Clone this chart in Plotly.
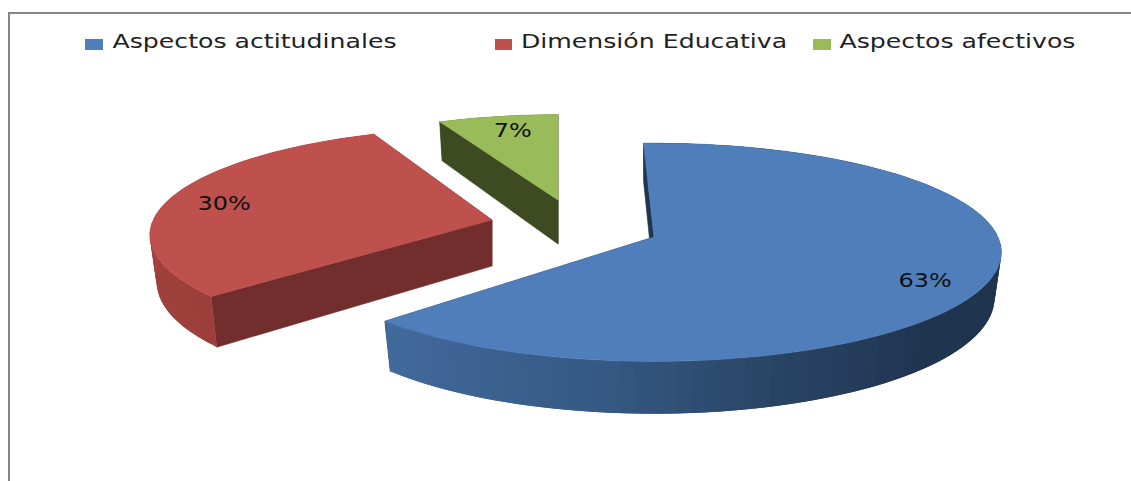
import numpy as np
import plotly.graph_objects as go

# ---- data ----
categories = ["Aspectos actitudinales", "Dimensión Educativa", "Aspectos afectivos"]
values = [63, 30, 7]

# ---- styles / placement (pixels of a 1131x481 canvas) ----
W, H = 1131, 481
top_colors = ["#4F7EBA", "#BE504D", "#9ABB59"]
radial_colors = ["#1F344F", "#722E2C", "#3E4A22"]
wall_stops = [
    [(90, "#1F344F"), (135, "#1F344F"), (165, "#2A4565"), (190, "#365A85"), (227, "#426B9D")],
    [(227, "#9C3F3B"), (250, "#A0413D"), (290, "#A8443F")],
    [(335, "#5A6E30"), (360, "#5A6E30")],
]
apex = [(654, 237), (492, 220), (558, 200)]
scale = [1.0, 0.985, 0.91]
depth = [45, 46, 44]
rot_deg = [-2.0, 2.0, 0.0]
label_nudge = [(4, 13), (-10, 3), (4, 1)]
RX, RY, K = 344, 107, 0.14
BOTTOM_X = 0.98
LABEL_R = 0.8
TEXT_STRETCH = 1.26
key_text_center = [254.5, 654, 957.5]
key_swatch_x = [(85, 103), (495, 512), (813, 831)]
key_swatch_y = (39, 50)
key_text_y = 43


def project(theta_deg, r, i, lower=False):
    t = np.radians(theta_deg + rot_deg[i])
    u, v = r * np.sin(t), -r * np.cos(t)
    d = 1 - K * v
    x = RX * scale[i] * u / d
    y = RY * scale[i] * v / d
    if lower:
        return apex[i][0] + BOTTOM_X * x, apex[i][1] + y + depth[i] / d
    return apex[i][0] + x, apex[i][1] + y


def hex_mix(stops, a):
    angs = [s[0] for s in stops]
    rgb = [[int(s[1][k:k + 2], 16) for k in (1, 3, 5)] for s in stops]
    return "rgb(%d,%d,%d)" % tuple(np.interp(a, angs, [c[j] for c in rgb]) for j in range(3))


def poly(xs, ys, color, edge=0.6):
    return go.Scatter(x=list(xs), y=list(ys), mode="lines", fill="toself", fillcolor=color,
                      line=dict(color=color, width=edge), showlegend=False, hoverinfo="skip")


def wall_pieces(fig, i, angles, step):
    # each piece overlaps the next one so that no seams show
    for s0, s1 in zip(angles[:-1], angles[1:]):
        s2 = min(s1 + step, angles[-1])
        tx0, ty0 = project(s0, 1, i)
        arc = np.linspace(s0, s2, 5)
        top = [project(a, 1, i) for a in arc]
        low = [project(a, 1, i, True) for a in arc[::-1]]
        xs = [tx0] + [p[0] for p in top] + [p[0] for p in low] + [tx0]
        ys = [ty0] + [p[1] for p in top] + [p[1] for p in low] + [ty0]
        fig.add_trace(poly(xs, ys, hex_mix(wall_stops[i], (s0 + s1) / 2), edge=0))


total = sum(values)
edges = np.cumsum([0] + values) / total * 360
fig = go.Figure()

for i in [2, 1, 0]:
    a0, a1 = edges[i], edges[i + 1]
    steps = np.linspace(a0, a1, int(max(8, (a1 - a0) / 2)) + 1)
    step = steps[1] - steps[0]
    back = [a for a in steps if np.cos(np.radians(a + rot_deg[i])) > 0]
    front = [a for a in steps if np.cos(np.radians(a + rot_deg[i])) <= 0]
    # back part of the outer wall, then the radial walls, then the front part
    for run in np.split(np.array(back), np.where(np.diff(back) > step * 1.5)[0] + 1):
        if len(run) > 1:
            wall_pieces(fig, i, list(run), step)
    for a in (a0, a1):
        ex, ey = project(a, 1, i)
        lx, ly = project(a, 1, i, True)
        ax, ay = project(a, 0, i)
        bx, by = project(a, 0, i, True)
        fig.add_trace(poly([ax, ex, lx, bx, ax], [ay, ey, ly, by, ay], radial_colors[i]))
    if len(front) > 1:
        wall_pieces(fig, i, front, step)
    # top face
    arc = np.linspace(a0, a1, 160)
    pts = [project(a, 1, i) for a in arc]
    xs = [apex[i][0]] + [p[0] for p in pts] + [apex[i][0]]
    ys = [apex[i][1]] + [p[1] for p in pts] + [apex[i][1]]
    fig.add_trace(poly(xs, ys, top_colors[i]))

# percentage labels
for i in range(3):
    lx, ly = project((edges[i] + edges[i + 1]) / 2, LABEL_R, i)
    fig.add_trace(go.Scatter(x=[lx + label_nudge[i][0]], y=[ly + label_nudge[i][1]], mode="text",
                             text=[f"{values[i]}%"],
                             textfont=dict(family="DejaVu Sans", size=19, color="#111111"),
                             textposition="middle center", showlegend=False, hoverinfo="skip"))

# colour key: swatch plus name, with the reference's uneven gaps and its wide lettering
shapes = [
    dict(type="line", xref="x", yref="y", x0=9, x1=9, y0=13, y1=H,
         line=dict(color="#868686", width=2)),
    dict(type="line", xref="x", yref="y", x0=8, x1=W, y0=13, y1=13,
         line=dict(color="#868686", width=2)),
]
for i, name in enumerate(categories):
    fig.add_trace(go.Scatter(x=[key_text_center[i]], y=[key_text_y], mode="text", name=name,
                             text=[name], showlegend=False, hoverinfo="skip",
                             textfont=dict(family="DejaVu Sans", size=20, color="#222222"),
                             textposition="middle center"))
    shapes.append(dict(type="rect", xref="x", yref="y", x0=key_swatch_x[i][0], x1=key_swatch_x[i][1],
                       y0=key_swatch_y[0], y1=key_swatch_y[1], fillcolor=top_colors[i], line=dict(width=0)))

fig.update_layout(
    width=W, height=H, margin=dict(l=0, r=0, t=0, b=0),
    paper_bgcolor="white", plot_bgcolor="white", showlegend=False,
    xaxis=dict(range=[0, W], visible=False, fixedrange=True),
    yaxis=dict(range=[H, 0], visible=False, fixedrange=True),
    shapes=shapes,
)

# page without margin; the reference's text is drawn wider than any installed font.
post = """
document.body.style.margin = '0';
var css = document.createElement('style');
css.textContent =
  '.textpoint text { transform-box: fill-box; transform-origin: center center; transform: scaleX(%(s)s); }';
document.head.appendChild(css);
""" % {"s": TEXT_STRETCH}
fig.write_html("out.html", config={"displayModeBar": False}, post_script=post)
